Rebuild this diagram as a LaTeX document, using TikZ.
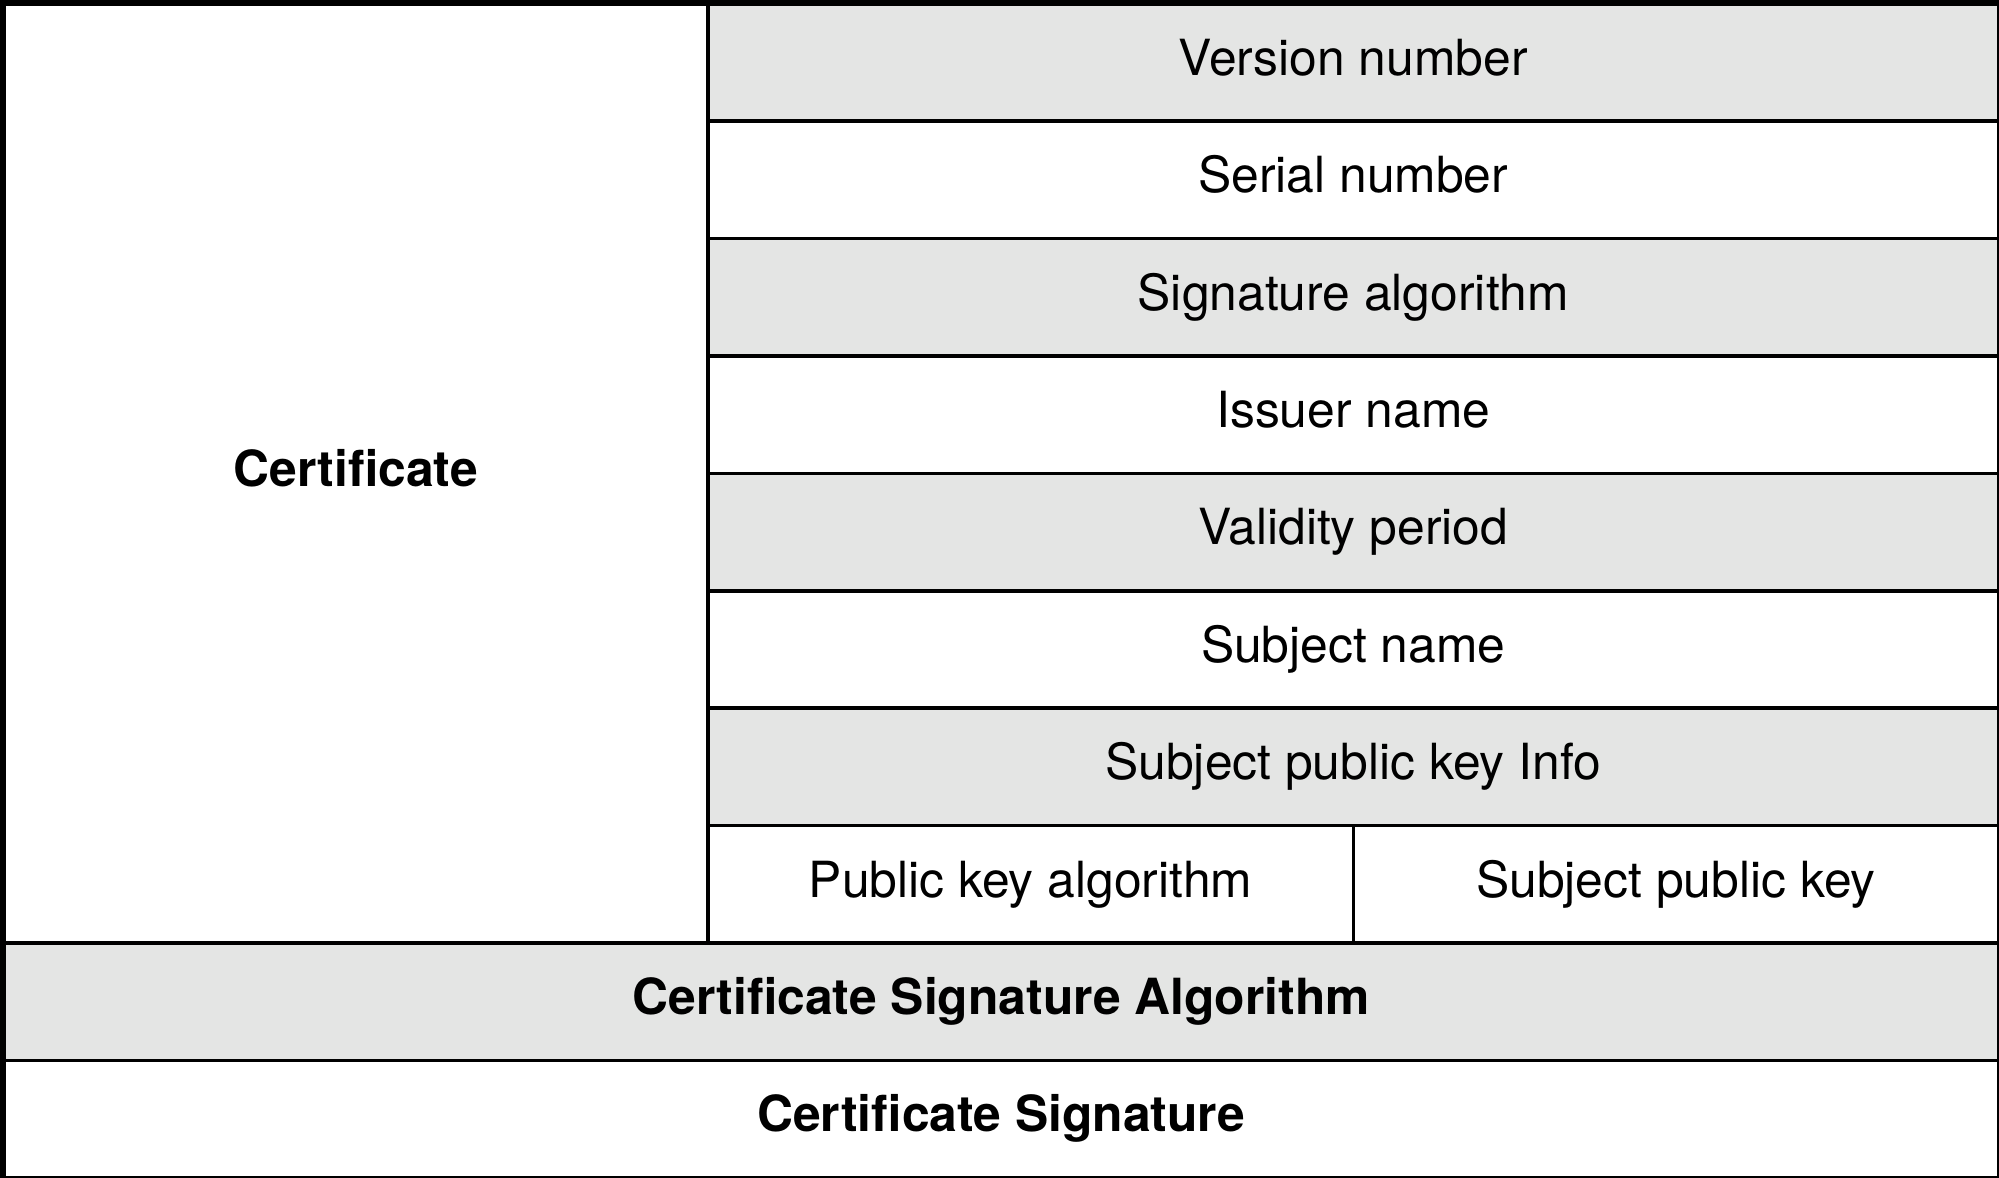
\documentclass[tikz,border=0pt]{standalone}
\usepackage{fontspec}
\setmainfont{TeX Gyre Heros}
\definecolor{rowgrey}{HTML}{E4E5E4}
\begin{document}
\begin{tikzpicture}[x=0.5pt,y=-0.5pt,
  cell/.style={draw=black, line width=1.75pt, inner sep=0pt, anchor=north west,
    font=\fontsize{24.9}{30}\selectfont, minimum height=58.7pt,
    text height=17.9pt, text depth=5pt},
  shaded/.style={cell, fill=rowgrey},
  plain/.style={cell, fill=white},
  field/.style={minimum width=645.5pt},
  half/.style={minimum width=322.75pt},
  bold/.style={font=\fontsize{24.9}{30}\selectfont\bfseries},
  full/.style={minimum width=997.5pt, bold}]
\useasboundingbox (0,0) rectangle (1999,1178);

% certificate body
\node[plain, bold, minimum width=352pt, minimum height=469.7pt] (cert) at (2,2) {Certificate};

% fields of the certificate
\node[shaded, field] (version)  at (706,2)     {Version number};
\node[plain,  field] (serial)   at (706,119.4) {Serial number};
\node[shaded, field] (sigalgo)  at (706,236.8) {Signature algorithm};
\node[plain,  field] (issuer)   at (706,354.2) {Issuer name};
\node[shaded, field] (validity) at (706,471.6) {Validity period};
\node[plain,  field] (subject)  at (706,589)   {Subject name};
\node[shaded, field] (spki)     at (706,706.4) {Subject public key Info};
\node[plain,  half]  (pkalgo)   at (706,823.8) {Public key algorithm};
\node[plain,  half]  (pubkey)   at (1351.5,823.8) {Subject public key};

% signature part
\node[shaded, full] (certsigalg) at (2,941.2)  {Certificate Signature Algorithm};
\node[plain,  full] (certsig)    at (2,1058.6) {Certificate Signature};

% outer frame
\draw[line width=2pt] (cert.north west) rectangle (certsig.south east);
\end{tikzpicture}
\end{document}
